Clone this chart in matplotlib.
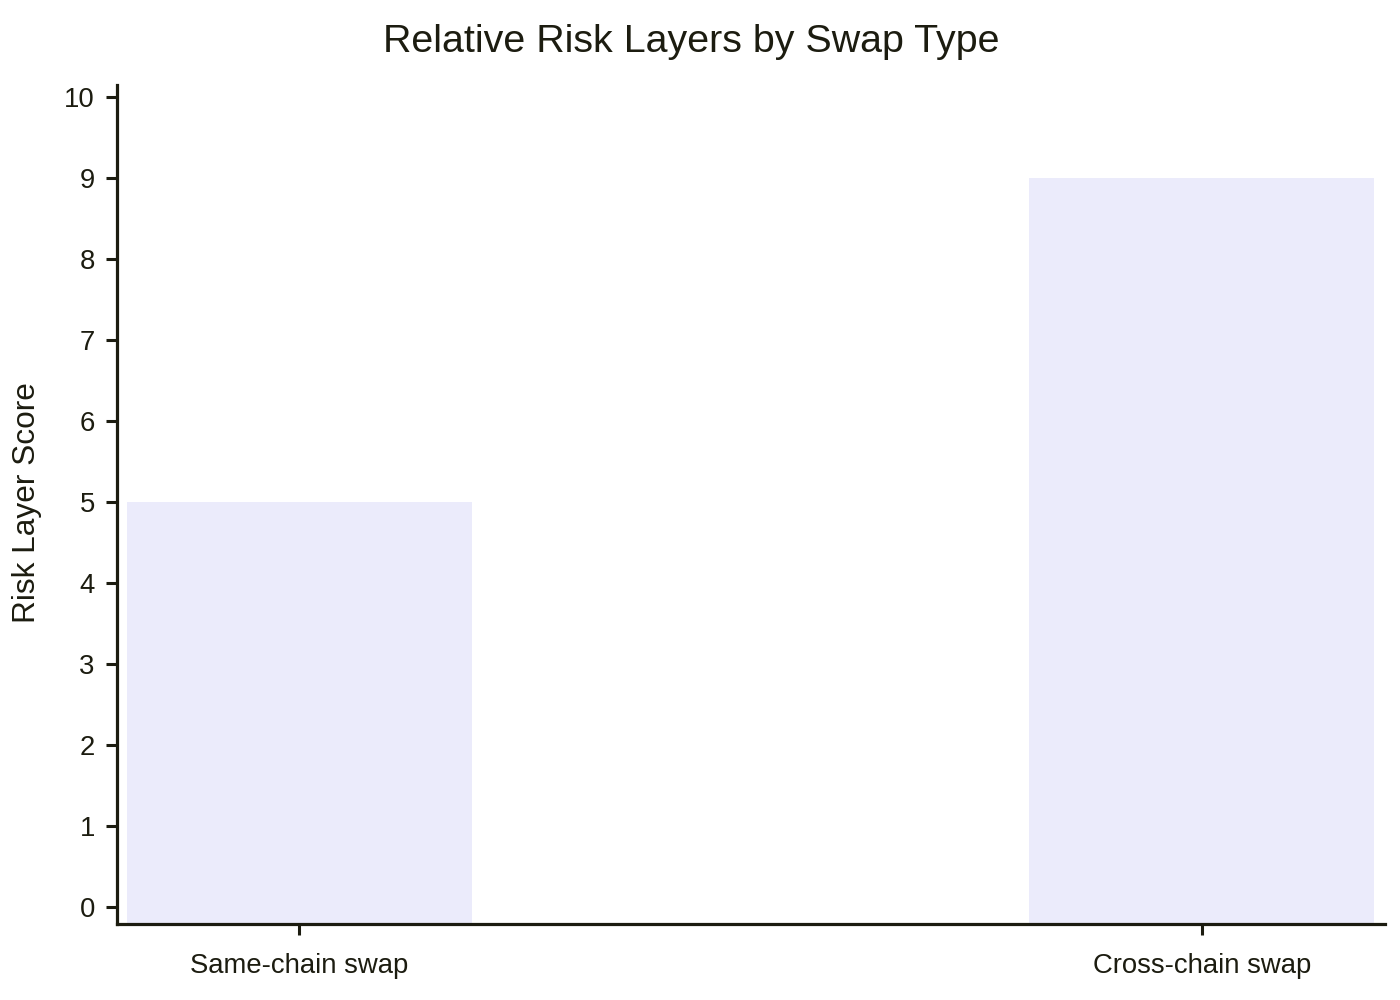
import numpy as np
import matplotlib.pyplot as plt

plt.rcParams['font.family'] = ['Liberation Sans', 'DejaVu Sans']

# data
swap_types = ["Same-chain swap", "Cross-chain swap"]
risk_scores = [5, 9]
y_ticks = list(range(0, 11))

ink = '#1c1c10'
bar_color = '#ebebfb'

fig = plt.figure(figsize=(14, 10), dpi=100)
ax = fig.add_axes([117/1400, 1 - 924/1000, (1385 - 117)/1400, (924 - 85)/1000])

ymin, ymax = -0.21, 10.15
x = np.arange(len(swap_types))
vals = np.array(risk_scores, dtype=float)
# bars sit on the (offset) bottom of the axis, like the reference
ax.bar(x, vals - ymin, bottom=ymin, width=0.382, color=bar_color, linewidth=0)

ax.set_xlim(-0.202, 1.203)
ax.set_ylim(ymin, ymax)
ax.set_xticks(x)
ax.set_xticklabels(swap_types)
ax.set_yticks(y_ticks)

for s in ['top', 'right']:
    ax.spines[s].set_visible(False)
for s in ['left', 'bottom']:
    ax.spines[s].set_linewidth(2.3)
    ax.spines[s].set_color(ink)

ax.tick_params(axis='both', colors=ink, labelcolor=ink, labelsize=19.8,
               width=2.2, length=8, direction='out')
ax.tick_params(axis='x', pad=13)
ax.tick_params(axis='y', pad=8)

fig.text(0.494, 1 - 42/1000, "Relative Risk Layers by Swap Type",
         ha='center', va='center', fontsize=28.4, color=ink)
fig.text(27/1400, 1 - 503/1000, "Risk Layer Score", rotation=90,
         ha='center', va='center', fontsize=22.8, color=ink)

fig.savefig("out.png", dpi=100, facecolor='white')
